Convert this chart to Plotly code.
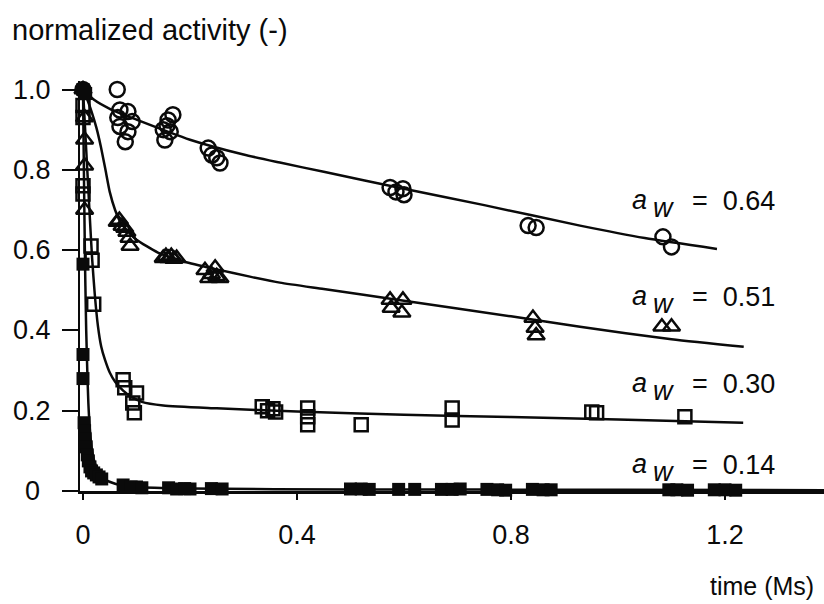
import plotly.graph_objects as go

# ---------------- data (time in Ms, normalized activity) ----------------
aw064_t = [0.0, 0.064, 0.069, 0.084, 0.065, 0.092, 0.069, 0.084, 0.079,
           0.168, 0.159, 0.157, 0.150, 0.163, 0.153,
           0.234, 0.241, 0.250, 0.256,
           0.574, 0.585, 0.598, 0.600,
           0.832, 0.847, 1.084, 1.100]
aw064_v = [1.0, 1.0, 0.949, 0.945, 0.93, 0.92, 0.908, 0.895, 0.87,
           0.937, 0.924, 0.91, 0.90, 0.895, 0.874,
           0.854, 0.837, 0.83, 0.817,
           0.756, 0.745, 0.753, 0.738,
           0.661, 0.656, 0.633, 0.608]

aw051_t = [0.0, 0.003, 0.003, 0.003, 0.003,
           0.064, 0.068, 0.073, 0.078, 0.082, 0.086, 0.088,
           0.150, 0.155, 0.160, 0.165, 0.170, 0.175,
           0.228, 0.235, 0.240, 0.247, 0.250, 0.256,
           0.574, 0.598, 0.576, 0.596,
           0.841, 0.845, 0.847, 1.082, 1.100]
aw051_v = [1.0, 0.93, 0.875, 0.81, 0.70,
           0.67, 0.675, 0.66, 0.655, 0.645, 0.63, 0.61,
           0.58, 0.585, 0.58, 0.585, 0.578, 0.58,
           0.55, 0.53, 0.54, 0.556, 0.535, 0.53,
           0.476, 0.476, 0.456, 0.444,
           0.431, 0.406, 0.387, 0.409, 0.409]

aw030_t = [0.0, 0.0, 0.0, 0.0, 0.015, 0.017, 0.02,
           0.075, 0.078, 0.100, 0.093, 0.096,
           0.335, 0.345, 0.355, 0.360,
           0.420, 0.420, 0.420, 0.520,
           0.690, 0.690, 0.951, 0.960, 1.125]
aw030_v = [0.96, 0.93, 0.76, 0.74, 0.61, 0.575, 0.465,
           0.277, 0.257, 0.244, 0.219, 0.195,
           0.21, 0.20, 0.205, 0.197,
           0.207, 0.185, 0.165, 0.165,
           0.207, 0.177, 0.197, 0.195, 0.185]

aw014_t = [0.0, 0.005, 0.0, 0.0, 0.0, 0.002, 0.003, 0.004, 0.006, 0.008, 0.010,
           0.013, 0.016, 0.020, 0.025, 0.030, 0.035,
           0.075, 0.090, 0.100, 0.110, 0.160, 0.175, 0.190, 0.200, 0.240, 0.260,
           0.500, 0.520, 0.535, 0.590, 0.620, 0.670, 0.690, 0.705,
           0.755, 0.775, 0.790, 0.840, 0.860, 0.875,
           1.095, 1.110, 1.130, 1.180, 1.200, 1.220]
aw014_v = [1.0, 0.99, 0.565, 0.34, 0.28, 0.17, 0.15, 0.13, 0.11, 0.09, 0.075,
           0.06, 0.05, 0.045, 0.04, 0.035, 0.03,
           0.015, 0.01, 0.01, 0.008, 0.008, 0.005, 0.006, 0.005, 0.006, 0.005,
           0.005, 0.005, 0.004, 0.004, 0.004, 0.004, 0.004, 0.005,
           0.004, 0.003, 0.002, 0.004, 0.003, 0.003,
           0.003, 0.003, 0.002, 0.003, 0.003, 0.002]

# fitted curves
fit064_t = [0.0, 0.02, 0.05, 0.1, 0.2, 0.3, 0.368, 0.45, 0.6, 0.75, 0.929, 1.05, 1.185]
fit064_v = [1.0, 0.975, 0.952, 0.925, 0.875, 0.838, 0.818, 0.795, 0.753, 0.712, 0.661, 0.63, 0.603]

fit051_t = [0.0, 0.008, 0.016, 0.025, 0.033, 0.042, 0.05, 0.06, 0.07, 0.085, 0.1, 0.14,
            0.19, 0.25, 0.312, 0.368, 0.45, 0.6, 0.8, 0.929, 1.1, 1.235]
fit051_v = [1.0, 0.975, 0.945, 0.905, 0.86, 0.8, 0.745, 0.7, 0.67, 0.645, 0.626, 0.594,
            0.571, 0.552, 0.534, 0.519, 0.503, 0.474, 0.435, 0.409, 0.378, 0.359]

fit030_t = [0.0, 0.004, 0.008, 0.012, 0.017, 0.022, 0.028, 0.034, 0.041, 0.05, 0.06,
            0.075, 0.09, 0.11, 0.15, 0.25, 0.4, 0.6, 0.8, 1.0, 1.234]
fit030_v = [1.0, 0.9, 0.8, 0.7, 0.58, 0.49, 0.41, 0.36, 0.327, 0.295, 0.272,
            0.25, 0.235, 0.222, 0.213, 0.206, 0.198, 0.19, 0.184, 0.178, 0.17]

fit014_t = [0.0, 0.001, 0.002, 0.003, 0.004, 0.005, 0.006, 0.008, 0.010, 0.013, 0.017,
            0.022, 0.03, 0.04, 0.06, 0.1, 0.2, 0.5, 1.0, 1.39]
fit014_v = [1.0, 0.88, 0.76, 0.65, 0.55, 0.47, 0.4, 0.3, 0.22, 0.15, 0.1,
            0.07, 0.045, 0.03, 0.018, 0.01, 0.006, 0.004, 0.003, 0.002]

label_values = ["0.64", "0.51", "0.30", "0.14"]
label_pix_y = [201, 297, 384, 465]   # vertical pixel centre of each label

x_ticks = [0, 0.4, 0.8, 1.2]
x_ticktext = ["0", "0.4", "0.8", "1.2"]
y_ticks = [0, 0.2, 0.4, 0.6, 0.8, 1.0]
y_ticktext = ["0", "0.2", "0.4", "0.6", "0.8", "1.0"]

# ---------------- layout geometry ----------------
W, H = 824, 604
ML, MR, MT, MB = 80, 0, 81, 113
PX_PER_X = 535.0
PX_PER_Y = 401.5
X0_PIX = 83
XR = [-(X0_PIX - ML) / PX_PER_X, -(X0_PIX - ML) / PX_PER_X + (W - ML - MR) / PX_PER_X]
YR = [0, (H - MT - MB) / PX_PER_Y]

def px_to_paper_x(px):
    return (px - ML) / (W - ML - MR)

def px_to_paper_y(py):
    return (H - MB - py) / (H - MT - MB)

FONT = "Liberation Sans, Arial, Helvetica, sans-serif"
FS = 27
BLACK = "#0a0a0a"

fig = go.Figure()

for tx, vy in [(fit064_t, fit064_v), (fit051_t, fit051_v), (fit030_t, fit030_v), (fit014_t, fit014_v)]:
    fig.add_trace(go.Scatter(x=tx, y=vy, mode="lines",
                             line=dict(color=BLACK, width=2.5, shape="spline", smoothing=0.6),
                             cliponaxis=False, hoverinfo="skip", showlegend=False))

fig.add_trace(go.Scatter(x=aw064_t, y=aw064_v, mode="markers", cliponaxis=False, showlegend=False,
                         marker=dict(symbol="circle-open", size=15, color=BLACK, line=dict(width=2.5))))
fig.add_trace(go.Scatter(x=aw051_t, y=aw051_v, mode="markers", cliponaxis=False, showlegend=False,
                         marker=dict(symbol="triangle-up-open", size=15, color=BLACK, line=dict(width=2.5))))
fig.add_trace(go.Scatter(x=aw030_t, y=aw030_v, mode="markers", cliponaxis=False, showlegend=False,
                         marker=dict(symbol="square-open", size=13, color=BLACK, line=dict(width=2.5))))
fig.add_trace(go.Scatter(x=aw014_t, y=aw014_v, mode="markers", cliponaxis=False, showlegend=False,
                         marker=dict(symbol="square", size=13, color=BLACK, line=dict(width=0))))

annotations = []
for val, py in zip(label_values, label_pix_y):
    annotations.append(dict(text="<i>a</i>", xref="paper", yref="paper",
                            x=px_to_paper_x(639), y=px_to_paper_y(py - 1),
                            xanchor="center", yanchor="middle", showarrow=False,
                            font=dict(family=FONT, size=FS, color=BLACK)))
    annotations.append(dict(text="<i>w</i>", xref="paper", yref="paper",
                            x=px_to_paper_x(663), y=px_to_paper_y(py + 7),
                            xanchor="center", yanchor="middle", showarrow=False,
                            font=dict(family=FONT, size=FS, color=BLACK)))
    annotations.append(dict(text="=  " + val, xref="paper", yref="paper",
                            x=px_to_paper_x(690), y=px_to_paper_y(py),
                            xanchor="left", yanchor="middle", showarrow=False,
                            font=dict(family=FONT, size=FS, color=BLACK)))

# y tick labels (centred, as in the original)
for v, t in zip(y_ticks, y_ticktext):
    annotations.append(dict(text=t, xref="paper", yref="y",
                            x=px_to_paper_x(32), y=v,
                            xanchor="center", yanchor="middle", showarrow=False,
                            font=dict(family=FONT, size=FS, color=BLACK)))

annotations.append(dict(text="normalized activity (-)", xref="paper", yref="paper",
                        x=px_to_paper_x(10), y=px_to_paper_y(30),
                        xanchor="left", yanchor="middle", showarrow=False,
                        font=dict(family=FONT, size=29, color=BLACK)))
annotations.append(dict(text="time (Ms)", xref="paper", yref="paper",
                        x=px_to_paper_x(816), y=px_to_paper_y(586),
                        xanchor="right", yanchor="middle", showarrow=False,
                        font=dict(family=FONT, size=25, color=BLACK)))

fig.update_layout(
    width=W, height=H,
    margin=dict(l=ML, r=MR, t=MT, b=MB, pad=0),
    paper_bgcolor="white", plot_bgcolor="white",
    font=dict(family=FONT, size=FS, color=BLACK),
    annotations=annotations,
    xaxis=dict(range=XR, showgrid=False, zeroline=False, showline=True, linecolor=BLACK,
               linewidth=2.5, ticks="outside", ticklen=6, tickwidth=1.5, tickcolor=BLACK,
               tickvals=x_ticks, ticktext=x_ticktext, ticklabelstandoff=12,
               tickfont=dict(family=FONT, size=FS, color=BLACK)),
    yaxis=dict(range=YR, showgrid=False, zeroline=False, showline=True, linecolor=BLACK,
               linewidth=1.5, ticks="outside", ticklen=16, tickwidth=1.5, tickcolor=BLACK,
               tickvals=y_ticks, showticklabels=False),
)

fig.write_html("out.html")
